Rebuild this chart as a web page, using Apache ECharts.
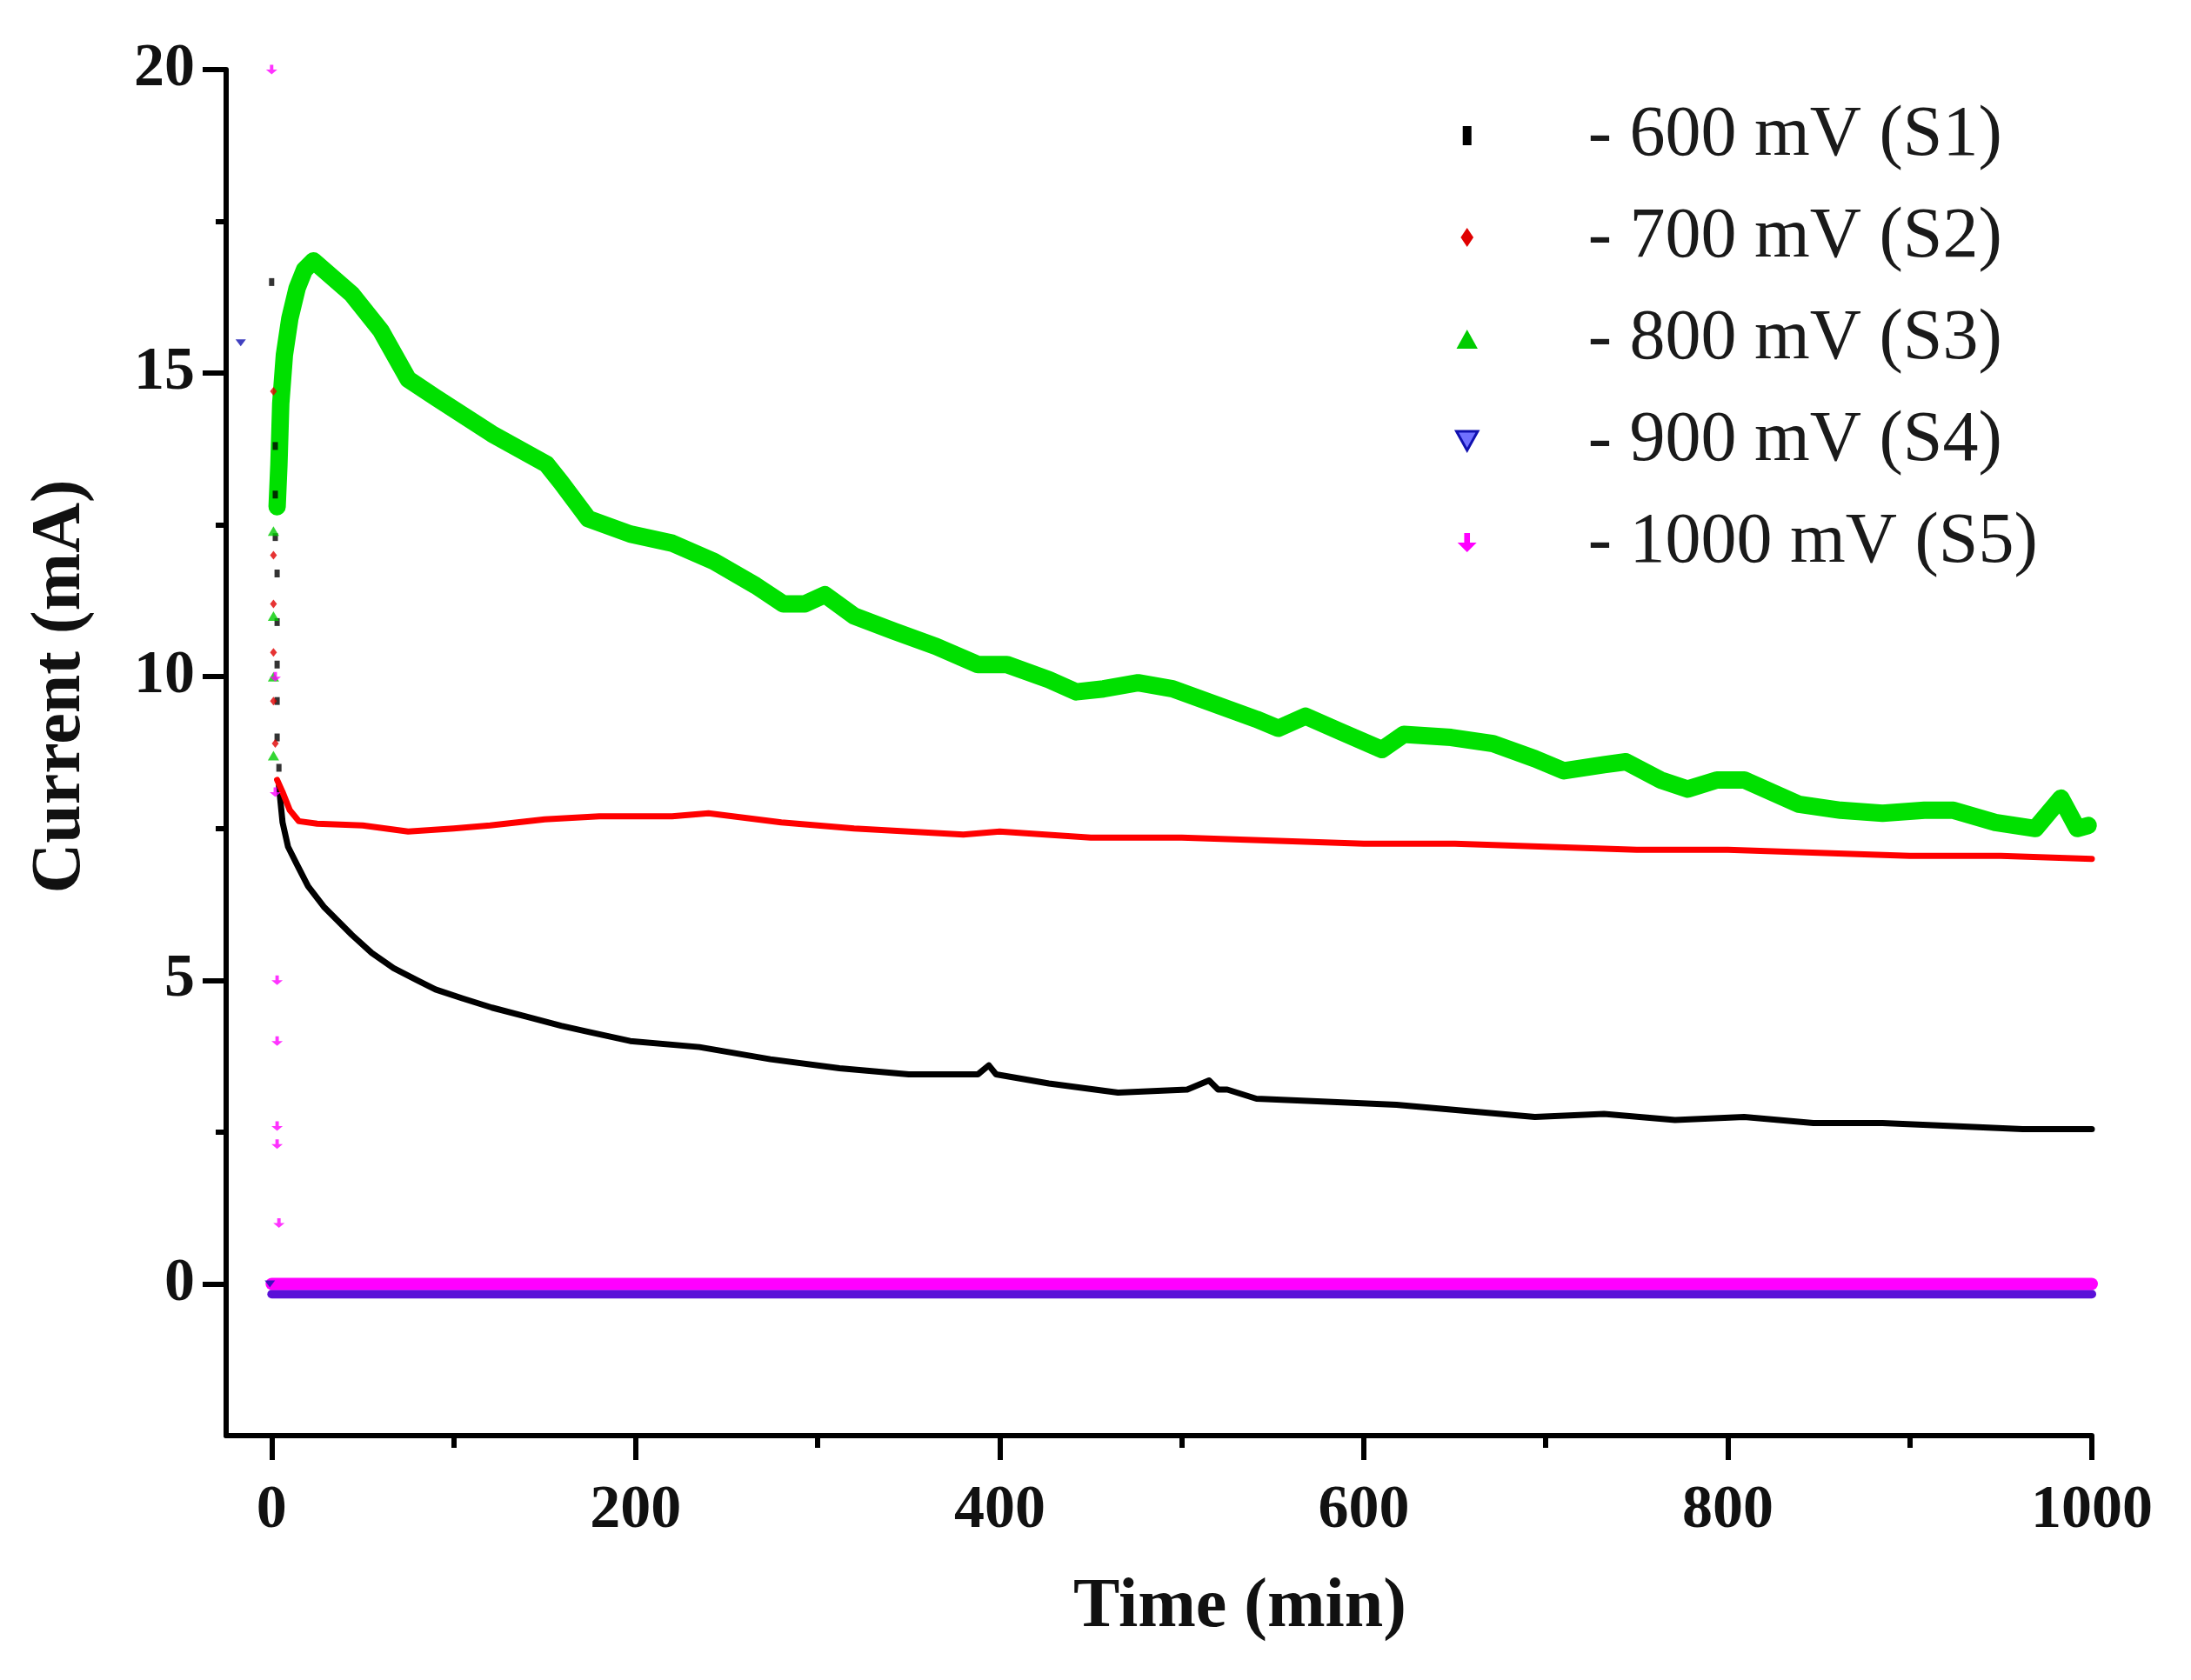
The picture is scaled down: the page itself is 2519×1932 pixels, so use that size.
<!DOCTYPE html>
<html>
<head>
<meta charset="utf-8">
<script src="https://cdn.jsdelivr.net/npm/echarts@6/dist/echarts.min.js"></script>
<style>html,body{margin:0;padding:0;background:#fff}#chart{width:2519px;height:1932px}</style>
</head>
<body>
<div id="chart"></div>
<script>
// ---- data ----
const seriesNames = ['- 600 mV (S1)', '- 700 mV (S2)', '- 800 mV (S3)', '- 900 mV (S4)', '- 1000 mV (S5)'];
const xTickLabels = [0, 200, 400, 600, 800, 1000];
const xMinorTicks = [100, 300, 500, 700, 900];
const yTickLabels = [0, 5, 10, 15, 20];
const yMinorTicks = [2.5, 7.5, 12.5, 17.5];

// S1 (-600 mV)
const s1Time = [4, 6, 9, 14, 20, 29, 44, 55, 67, 80, 90, 105, 121, 140, 159, 174, 197, 235, 274, 312, 350, 388, 394, 398, 427, 465, 503, 515, 520, 525, 541, 580, 618, 656, 694, 732, 771, 809, 847, 885, 924, 962, 1000];
const s1Current = [8.2, 7.6, 7.2, 6.9, 6.55, 6.2, 5.75, 5.45, 5.2, 5.0, 4.85, 4.7, 4.55, 4.4, 4.25, 4.15, 4.0, 3.9, 3.7, 3.55, 3.45, 3.45, 3.6, 3.45, 3.3, 3.15, 3.2, 3.35, 3.2, 3.2, 3.05, 3.0, 2.95, 2.85, 2.75, 2.8, 2.7, 2.75, 2.65, 2.65, 2.6, 2.55, 2.55];
const s1StartTime = [0, 2, 2, 2, 3, 3, 3, 3, 3, 4];
const s1StartCurrent = [16.5, 13.8, 13.0, 12.3, 11.7, 10.9, 10.2, 9.6, 9.0, 8.5];

// S2 (-700 mV)
const s2Time = [3, 6, 10, 15, 25, 50, 75, 100, 120, 150, 180, 220, 240, 280, 320, 380, 400, 450, 500, 550, 600, 650, 700, 750, 800, 850, 900, 950, 1000];
const s2Current = [8.3, 8.1, 7.8, 7.62, 7.58, 7.55, 7.45, 7.5, 7.55, 7.65, 7.7, 7.7, 7.75, 7.6, 7.5, 7.4, 7.45, 7.35, 7.35, 7.3, 7.25, 7.25, 7.2, 7.15, 7.15, 7.1, 7.05, 7.05, 7.0];
const s2StartTime = [1, 1, 1, 1, 1, 2];
const s2StartCurrent = [14.7, 12.0, 11.2, 10.4, 9.6, 8.9];

// S3 (-800 mV)
const s3Time = [3, 4, 5, 7, 10, 14, 18, 23, 44, 60, 75, 90, 121, 151, 159, 174, 197, 220, 243, 266, 281, 293, 304, 320, 342, 365, 388, 404, 427, 442, 457, 476, 495, 518, 541, 553, 568, 587, 610, 622, 648, 671, 694, 710, 732, 744, 763, 778, 794, 809, 824, 839, 862, 885, 908, 924, 947, 969, 983, 992, 998];
const s3Current = [12.8, 13.5, 14.5, 15.3, 15.9, 16.4, 16.7, 16.85, 16.3, 15.7, 14.9, 14.6, 14.0, 13.5, 13.2, 12.6, 12.35, 12.2, 11.9, 11.5, 11.2, 11.2, 11.35, 11.0, 10.75, 10.5, 10.2, 10.2, 9.95, 9.75, 9.8, 9.9, 9.8, 9.55, 9.3, 9.15, 9.35, 9.1, 8.8, 9.05, 9.0, 8.9, 8.65, 8.45, 8.55, 8.6, 8.3, 8.15, 8.3, 8.3, 8.1, 7.9, 7.8, 7.75, 7.8, 7.8, 7.6, 7.5, 8.0, 7.5, 7.55];
const s3StartTime = [1, 1, 1, 1];
const s3StartCurrent = [12.4, 11.0, 10.0, 8.7];

// S4 (-900 mV)
const s4Time = [0, 250, 500, 750, 1000];
const s4Current = [-0.17, -0.17, -0.17, -0.17, -0.17];
const s4StartTime = [-17, -1];
const s4StartCurrent = [15.5, 0.0];

// S5 (-1000 mV)
const s5Time = [0, 250, 500, 750, 1000];
const s5Current = [0.0, 0.0, 0.0, 0.0, 0.0];
const s5StartTime = [0, 2, 2, 3, 3, 3, 3, 4];
const s5StartCurrent = [20.0, 10.0, 8.1, 5.0, 4.0, 2.6, 2.3, 1.0];

// ---- chart ----
const pair = (xs, ys) => xs.map((x, i) => [x, ys[i]]);
const serif = 'Liberation Serif';
const colors = ['#000000', '#ff0000', '#00e000', '#5a10d8', '#ff00ff'];
const downTri = 'path://M0,0L10,0L5,9Z';
const upTri = 'path://M5,0L10,9L0,9Z';
const diamond = 'path://M5,0L9,6L5,12L1,6Z';
const downArrow = 'path://M3.5,0H6.5V5H10L5,10L0,5H3.5Z';

const chart = echarts.init(document.getElementById('chart'), null, {renderer: 'canvas'});

const lineSeries = (name, xs, ys, color, width) => ({
  name, type: 'line', xAxisIndex: 0, yAxisIndex: 0, data: pair(xs, ys),
  showSymbol: false, symbol: 'none', smooth: false,
  lineStyle: {color, width, cap: 'round', join: 'round'}, itemStyle: {color},
  emphasis: {disabled: true}, animation: false, z: 3
});
const startSeries = (name, xs, ys, color, symbol, size) => ({
  name, type: 'scatter', xAxisIndex: 0, yAxisIndex: 0, data: pair(xs, ys),
  symbol, symbolSize: size, itemStyle: {color}, animation: false, z: 4
});

chart.setOption({
  backgroundColor: '#ffffff',
  animation: false,
  grid: {left: 260, top: 80, right: 114, bottom: 281, containLabel: false, outerBoundsMode: 'none'},
  legend: {
    show: true, orient: 'vertical', left: 1673, top: 115, padding: 0,
    itemWidth: 268, itemHeight: 22, itemGap: 35, symbolKeepAspect: true,
    selectedMode: false,
    textStyle: {fontFamily: serif, fontSize: 82, color: '#1a1a1a'},
    data: [
      {name: seriesNames[0], icon: 'path://M0,0H5V11H0Z', itemStyle: {color: '#000'}},
      {name: seriesNames[1], icon: diamond, itemStyle: {color: '#e00000'}},
      {name: seriesNames[2], icon: upTri, itemStyle: {color: '#00cc00'}},
      {name: seriesNames[3], icon: downTri, itemStyle: {color: '#7070ff', borderColor: '#1010b0', borderWidth: 3}},
      {name: seriesNames[4], icon: downArrow, itemStyle: {color: '#ff00ff'}}
    ]
  },
  xAxis: [
    {
      type: 'value', min: -25, max: 1000, position: 'bottom',
      name: 'Time (min)', nameLocation: 'middle', nameGap: 158,
      nameTextStyle: {fontFamily: serif, fontSize: 80, fontWeight: 'bold', color: '#111', padding: [0, 0, 0, 186]},
      axisLine: {show: true, onZero: false, lineStyle: {color: '#000', width: 6}},
      axisTick: {show: true, inside: false, length: 28, customValues: xTickLabels, lineStyle: {color: '#000', width: 6}},
      axisLabel: {show: true, customValues: xTickLabels, formatter: v => String(v), margin: 52, fontFamily: serif, fontSize: 70, fontWeight: 'bold', color: '#111'},
      splitLine: {show: false}, minorTick: {show: false}
    },
    {
      type: 'value', min: -25, max: 1000, position: 'bottom',
      axisLine: {show: false, onZero: false},
      axisTick: {show: true, inside: false, length: 14, customValues: xMinorTicks, lineStyle: {color: '#000', width: 6}},
      axisLabel: {show: false}, splitLine: {show: false}
    }
  ],
  yAxis: [
    {
      type: 'value', min: -2.5, max: 20, position: 'left',
      name: 'Current (mA)', nameLocation: 'middle', nameGap: 150,
      nameTextStyle: {fontFamily: serif, fontSize: 80, fontWeight: 'bold', color: '#111', padding: [0, 0, 0, 152]},
      axisLine: {show: true, onZero: false, lineStyle: {color: '#000', width: 6}},
      axisTick: {show: true, inside: false, length: 27, customValues: yTickLabels, lineStyle: {color: '#000', width: 6}},
      axisLabel: {show: true, customValues: yTickLabels, formatter: v => String(v), margin: 36, fontFamily: serif, fontSize: 70, fontWeight: 'bold', color: '#111'},
      splitLine: {show: false}
    },
    {
      type: 'value', min: -2.5, max: 20, position: 'left',
      axisLine: {show: false, onZero: false},
      axisTick: {show: true, inside: false, length: 12, customValues: yMinorTicks, lineStyle: {color: '#000', width: 6}},
      axisLabel: {show: false}, splitLine: {show: false}
    }
  ],
  series: [
    lineSeries(seriesNames[3], s4Time, s4Current, colors[3], 10),
    lineSeries(seriesNames[4], s5Time, s5Current, colors[4], 14),
    lineSeries(seriesNames[0], s1Time, s1Current, colors[0], 7),
    lineSeries(seriesNames[1], s2Time, s2Current, colors[1], 7),
    lineSeries(seriesNames[2], s3Time, s3Current, colors[2], 20),
    startSeries('S1 start', s1StartTime, s1StartCurrent, '#000', 'rect', [6, 9]),
    startSeries('S2 start', s2StartTime, s2StartCurrent, '#e00000', 'diamond', [8, 10]),
    startSeries('S3 start', s3StartTime, s3StartCurrent, '#00cc00', 'triangle', [13, 11]),
    startSeries('S4 start', s4StartTime, s4StartCurrent, '#1010b0', downTri, [12, 8]),
    startSeries('S5 start', s5StartTime, s5StartCurrent, '#ff00ff', downArrow, [13, 11])
  ]
});
</script>
</body>
</html>
